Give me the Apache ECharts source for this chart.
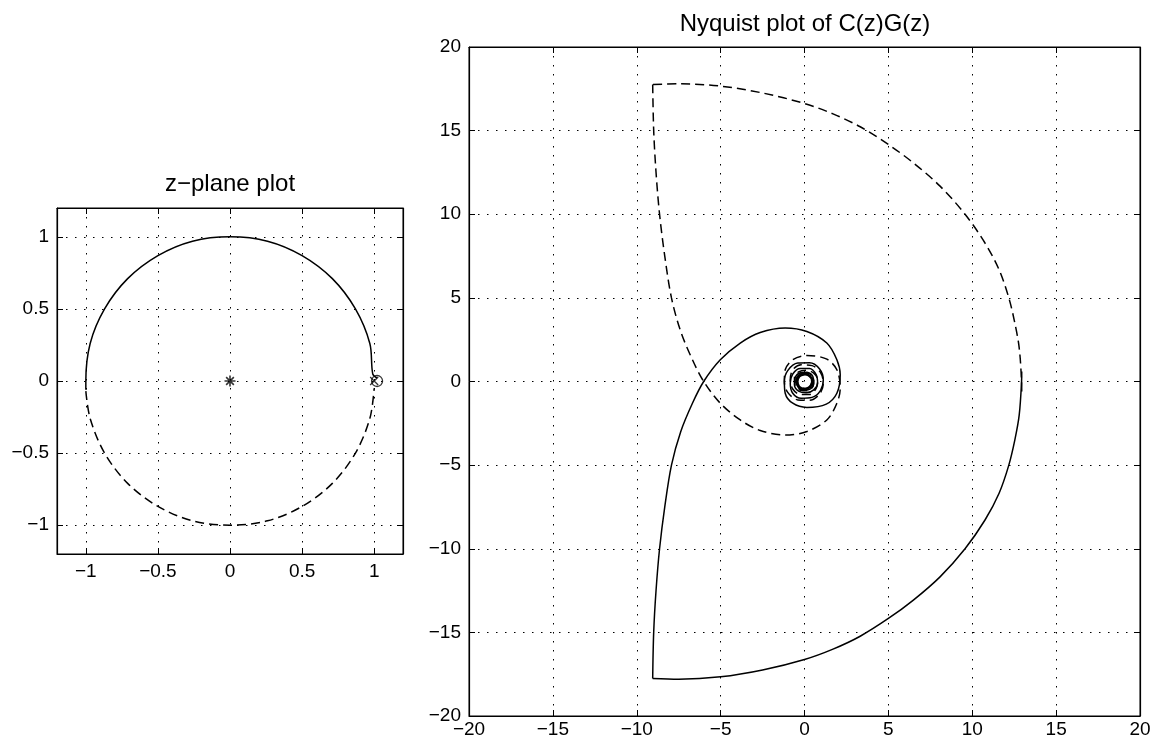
<!DOCTYPE html>
<html><head><meta charset="utf-8">
<script src="https://cdn.jsdelivr.net/npm/echarts@6/dist/echarts.min.js"></script>
<style>html,body{margin:0;padding:0;background:#fff}#c{width:1157px;height:740px}</style>
</head><body><div id="c"></div>
<script>
// ---------- data ----------
const zTitle = 'z\u2212plane plot';
const nyqTitle = 'Nyquist plot of C(z)G(z)';

// unit circle, upper half (solid)
const circleUpper = [[1.02,0.02],[0.99,0.05],[0.97,0.26],[0.87,0.50],[0.71,0.71],[0.50,0.87],[0.26,0.97],[0.00,1.00],[-0.26,0.97],[-0.50,0.87],[-0.71,0.71],[-0.87,0.50],[-0.97,0.26],[-1.00,0.00],[-1.00,-0.06]];
// unit circle, lower half (dashed)
const circleLower = [[-1.00,-0.07],[-0.97,-0.26],[-0.87,-0.50],[-0.71,-0.71],[-0.50,-0.87],[-0.26,-0.97],[0.00,-1.00],[0.26,-0.97],[0.50,-0.87],[0.71,-0.71],[0.87,-0.50],[0.97,-0.26],[1.00,-0.05]];
const polesX = [[1.00,0]];
const zerosO = [[1.02,0]];
const starPts = [[0,0]];

// Nyquist, solid branch
const nyqSolidArc = [[12.95,0.6],[12.94,0],[12.8,-2.0],[12.54,-3.49],[12.18,-5.0],[11.6,-6.68],[10.76,-8.28],[9.57,-10.0],[8.08,-11.68],[6.49,-13.07],[5.0,-14.17],[3.32,-15.23],[1.7,-16.0],[0,-16.62],[-2.5,-17.25],[-5.0,-17.66],[-7.5,-17.8],[-9.05,-17.76]];
const nyqSolidSpiral = [[-9.05,-17.76],[-8.99,-15.0],[-8.85,-12.5],[-8.64,-10.0],[-8.33,-7.5],[-7.93,-5.0],[-7.38,-3.0],[-6.68,-1.3],[-6.01,0],[-5.02,1.3],[-3.83,2.3],[-2.64,2.93],[-1.15,3.2],[0.14,2.99],[1.33,2.3],[1.93,1.3],[2.13,0.4],[1.93,-0.7],[1.3,-1.35],[0.14,-1.55],[-0.7,-1.3],[-1.15,-0.7],[-1.2,0],[-1.0,0.65],[-0.4,1.1],[0.3,1.12],[0.9,0.75],[1.12,0.1],[0.95,-0.55],[0.45,-0.95],[-0.2,-1.0],[-0.7,-0.7],[-0.85,-0.1],[-0.7,0.45],[-0.25,0.78],[0.3,0.78],[0.7,0.4],[0.78,-0.1],[0.55,-0.5],[0.1,-0.68],[-0.35,-0.58],[-0.6,-0.2],[-0.55,0.25],[-0.25,0.52],[0.15,0.55],[0.5,0.3],[0.55,-0.1],[0.35,-0.45],[0,-0.52],[-0.35,-0.38],[-0.5,0],[-0.35,0.36],[0,0.5],[0.35,0.35],[0.48,0],[0.34,-0.34],[0,-0.47],[-0.33,-0.33],[-0.46,0],[-0.32,0.32],[0,0.44],[0.31,0.31],[0.43,0],[0.3,-0.3],[0,-0.42],[-0.3,-0.3],[-0.41,0],[-0.29,0.29],[0,0.4]];
// Nyquist, dashed branch
const nyqDashedArc = [[12.95,-0.6],[12.94,0],[12.8,2.0],[12.54,3.49],[12.18,5.0],[11.6,6.68],[10.76,8.28],[9.57,10.0],[8.08,11.68],[6.49,13.07],[5.0,14.17],[3.32,15.23],[1.7,16.0],[0,16.62],[-2.5,17.25],[-5.0,17.66],[-7.5,17.8],[-9.05,17.76]];
const nyqDashedSpiral = [[-9.05,17.76],[-8.99,15.0],[-8.85,12.5],[-8.64,10.0],[-8.33,7.5],[-7.93,5.0],[-7.38,3.0],[-6.68,1.3],[-6.01,0],[-5.02,-1.3],[-3.83,-2.3],[-2.64,-2.93],[-1.15,-3.2],[0.14,-2.99],[1.33,-2.3],[1.93,-1.3],[2.13,-0.4],[1.93,0.7],[1.3,1.35],[0.14,1.55],[-0.7,1.3],[-1.15,0.7],[-1.2,0],[-1.0,-0.65],[-0.4,-1.1],[0.3,-1.12],[0.9,-0.75],[1.12,-0.1],[0.95,0.55],[0.45,0.95],[-0.2,1.0],[-0.7,0.7],[-0.85,0.1],[-0.7,-0.45],[-0.25,-0.78],[0.3,-0.78],[0.7,-0.4],[0.78,0.1],[0.55,0.5],[0.1,0.68],[-0.35,0.58],[-0.6,0.2],[-0.55,-0.25],[-0.25,-0.52],[0.15,-0.55],[0.5,-0.3],[0.55,0.1],[0.35,0.45],[0,0.52],[-0.35,0.38],[-0.5,0],[-0.35,-0.36],[0,-0.5],[0.35,-0.35],[0.48,0],[0.34,0.34],[0,0.47],[-0.33,0.33],[-0.46,0],[-0.32,-0.32],[0,-0.44],[0.31,-0.31],[0.43,0],[0.3,0.3],[0,0.42],[-0.3,0.3],[-0.41,0],[-0.29,-0.29],[0,-0.4]];

// ---------- chart ----------
const FONT = '"Liberation Sans", Arial, Helvetica, sans-serif';
const fmt = v => (v < 0 ? '\u2212' : '') + String(Math.abs(v));
const fmtHalf = v => (Math.abs(Math.round(v * 2) - v * 2) > 1e-6 ? '' : fmt(v));
const gridLine = { show: true, lineStyle: { color: '#000', type: [1.5, 7.5], width: 1 } };
const axLine = { show: true, onZero: false, lineStyle: { color: '#000', width: 1.2 } };

function axis(gi, pos, range, main, margin) {
  const a = {
    type: 'value', gridIndex: gi, position: pos,
    min: range.min, max: range.max,
    axisLine: axLine,
    axisTick: { show: true, inside: true, length: 6, lineStyle: { color: '#000', width: 1 } },
    splitLine: main ? gridLine : { show: false },
    axisLabel: main ? { show: true, color: '#000', fontSize: 19, fontFamily: FONT, margin: margin,
      formatter: range.half ? fmtHalf : fmt, showMinLabel: !range.half, showMaxLabel: !range.half } : { show: false }
  };
  if (range.interval) a.interval = range.interval;
  if (range.splitNumber) a.splitNumber = range.splitNumber;
  return a;
}
const zR = { min: -1.2, max: 1.2, splitNumber: 5, half: true };
const nR = { min: -20, max: 20, interval: 5 };

const lineS = (xi, data, dashed) => ({
  type: 'line', xAxisIndex: xi, yAxisIndex: xi, data: data, showSymbol: false, smooth: 0.33,
  silent: true, lineStyle: { color: '#000', width: 1.5, type: dashed ? [9, 5] : 'solid' }, z: 3
});
const mark = (data, symbol, size, bw) => ({
  type: 'scatter', xAxisIndex: 0, yAxisIndex: 0, data: data, symbol: symbol, symbolSize: size, silent: true, z: 5,
  itemStyle: { color: 'rgba(0,0,0,0)', borderColor: '#000', borderWidth: bw }
});

const chart = echarts.init(document.getElementById('c'), null, { renderer: 'canvas' });
chart.setOption({
  animation: false,
  backgroundColor: '#fff',
  title: [
    { text: zTitle, left: 230, top: 172, textAlign: 'center', padding: 0,
      textStyle: { fontSize: 24, fontWeight: 'normal', color: '#000', fontFamily: FONT } },
    { text: nyqTitle, left: 805, top: 12, textAlign: 'center', padding: 0,
      textStyle: { fontSize: 24, fontWeight: 'normal', color: '#000', fontFamily: FONT } }
  ],
  grid: [
    { left: 57, top: 208, width: 346, height: 346, show: true, borderColor: '#000', borderWidth: 1, backgroundColor: '#fff' },
    { left: 469, top: 47, width: 671, height: 669, show: true, borderColor: '#000', borderWidth: 1, backgroundColor: '#fff' }
  ],
  xAxis: [
    axis(0, 'bottom', zR, true, 8),
    axis(1, 'bottom', nR, true, 4),
    axis(0, 'top', zR, false),
    axis(1, 'top', nR, false)
  ],
  yAxis: [
    axis(0, 'left', zR, true, 8),
    axis(1, 'left', nR, true, 8),
    axis(0, 'right', zR, false),
    axis(1, 'right', nR, false)
  ],
  series: [
    lineS(0, circleUpper, false),
    lineS(0, circleLower, true),
    mark(starPts, 'path://M5,0L5,10M0,5L10,5M1.5,1.5L8.5,8.5M1.5,8.5L8.5,1.5', 11, 1.6),
    mark(polesX, 'path://M0,0L10,10M0,10L10,0', 8, 1.3),
    mark(zerosO, 'circle', 11, 1.3),
    lineS(1, nyqSolidArc, false),
    lineS(1, nyqSolidSpiral, false),
    lineS(1, nyqDashedArc, true),
    lineS(1, nyqDashedSpiral, true)
  ]
});
</script></body></html>
